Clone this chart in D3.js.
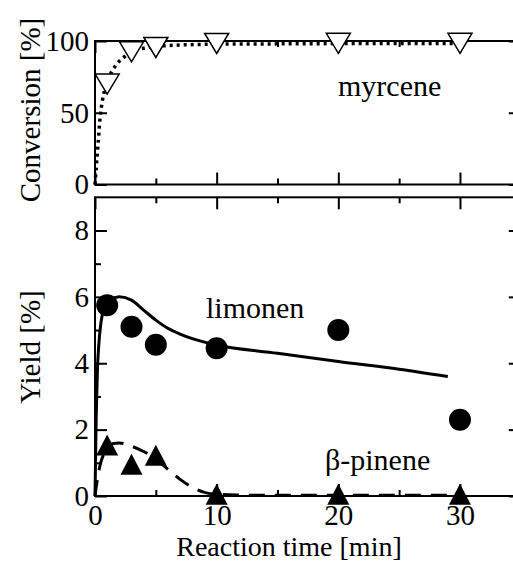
<!DOCTYPE html>
<html>
<head>
<meta charset="utf-8">
<script src="https://cdn.jsdelivr.net/npm/d3@7"></script>
<style>
  body { margin: 0; background: #fff; }
  svg text { font-family: "Liberation Serif", "Times New Roman", serif; fill: #000; }
  .axis path.domain { display: none; }
  .axis line { stroke: #000; stroke-width: 2; }
  .axis text { font-size: 29px; }
</style>
</head>
<body>
<div id="chart"></div>
<script>
// measured points (min)
const times = [1, 3, 5, 10, 20, 30];
const myrcene = [70, 92.5, 95.5, 98.3, 98.4, 98.4];
const limonene = [5.75, 5.1, 4.56, 4.45, 5.0, 2.3];
const bPinene = [1.54, 0.96, 1.23, 0.05, 0.05, 0.05];

// fitted curves
const myrceneFitT = [0, 0.1, 0.25, 0.4, 0.6, 0.8, 1, 1.4, 2, 2.5, 3, 3.5, 4, 5, 7, 10, 15, 20, 30];
const myrceneFitY = [0, 12, 28, 45, 58, 66, 72, 79, 86, 89.5, 92, 94, 95, 96.2, 97.2, 97.8, 98, 98.2, 98.3];
const limoneneFitT = [0, 0.1, 0.2, 0.3, 0.5, 0.8, 1.2, 2, 3, 4, 5, 6, 7, 8, 10, 15, 20, 25, 29];
const limoneneFitY = [0, 2.4, 3.8, 4.5, 5.25, 5.7, 5.9, 6.0, 5.9, 5.6, 5.3, 5.05, 4.88, 4.74, 4.55, 4.3, 4.05, 3.82, 3.6];
const pineneFitT = [0, 0.2, 0.4, 0.7, 1, 1.5, 2, 3, 4, 5, 6, 7, 8, 9, 10, 12, 15, 20, 30];
const pineneFitY = [0, 0.5, 0.9, 1.25, 1.45, 1.58, 1.6, 1.5, 1.34, 1.12, 0.8, 0.5, 0.26, 0.11, 0.05, 0.03, 0.02, 0.02, 0.02];

const xMajor = [0, 10, 20, 30];
const xMinor = [5, 15, 25];
const convTicks = [0, 50, 100];
const yieldMajor = [0, 2, 4, 6, 8];
const yieldMinor = [1, 3, 5, 7];

const W = 513, H = 562;
const svg = d3.select("#chart").append("svg")
    .attr("width", W).attr("height", H);

const x = d3.scaleLinear().domain([0, 35]).range([95, 520.8]);
const yConv = d3.scaleLinear().domain([0, 100]).range([184.5, 41]);
const yYield = d3.scaleLinear().domain([0, 9]).range([496, 197.3]);

function frame(y) {
    svg.append("rect")
        .attr("x", x(0)).attr("y", y.range()[1])
        .attr("width", x(35) - x(0)).attr("height", y.range()[0] - y.range()[1])
        .attr("fill", "none").attr("stroke", "#000").attr("stroke-width", 2);
}

function xTicks(y, withLabels) {
    const yb = y.range()[0], yt = y.range()[1];
    svg.append("g").attr("class", "axis").attr("transform", `translate(0,${yb})`)
        .call(d3.axisBottom(x).tickValues(xMajor).tickSize(-12).tickPadding(8)
            .tickFormat(withLabels ? d3.format("d") : ""));
    svg.append("g").attr("class", "axis").attr("transform", `translate(0,${yb})`)
        .call(d3.axisBottom(x).tickValues(xMinor).tickSize(-6).tickFormat(""));
    svg.append("g").attr("class", "axis").attr("transform", `translate(0,${yt})`)
        .call(d3.axisTop(x).tickValues(xMajor).tickSize(-12).tickFormat(""));
    svg.append("g").attr("class", "axis").attr("transform", `translate(0,${yt})`)
        .call(d3.axisTop(x).tickValues(xMinor).tickSize(-6).tickFormat(""));
}

function yTicks(y, major, minor) {
    svg.append("g").attr("class", "axis").attr("transform", `translate(${x(0)},0)`)
        .call(d3.axisLeft(y).tickValues(major).tickSize(-12).tickPadding(6));
    svg.append("g").attr("class", "axis").attr("transform", `translate(${x(35)},0)`)
        .call(d3.axisLeft(y).tickValues(major).tickSize(12).tickFormat(""));
    if (minor.length) {
        svg.append("g").attr("class", "axis").attr("transform", `translate(${x(0)},0)`)
            .call(d3.axisLeft(y).tickValues(minor).tickSize(-6).tickFormat(""));
        svg.append("g").attr("class", "axis").attr("transform", `translate(${x(35)},0)`)
            .call(d3.axisLeft(y).tickValues(minor).tickSize(6).tickFormat(""));
    }
}

// ---- top panel: conversion
frame(yConv);
xTicks(yConv, false);
yTicks(yConv, convTicks, []);

const lineConv = d3.line().x(d => x(d[0])).y(d => yConv(d[1])).curve(d3.curveMonotoneX);
svg.append("path")
    .datum(d3.zip(myrceneFitT, myrceneFitY))
    .attr("d", lineConv)
    .attr("fill", "none").attr("stroke", "#000")
    .attr("stroke-width", 3.5).attr("stroke-dasharray", "3,4");

const tw = 24, th = 20;
svg.selectAll(".myr").data(d3.zip(times, myrcene)).join("path")
    .attr("class", "myr")
    .attr("transform", d => `translate(${x(d[0])},${yConv(d[1])})`)
    .attr("d", `M${-tw / 2},${-th / 2}L${tw / 2},${-th / 2}L0,${th / 2}Z`)
    .attr("fill", "#fff").attr("stroke", "#000").attr("stroke-width", 1.5);

svg.append("text").attr("x", 338).attr("y", 96)
    .style("font-size", "30px").text("myrcene");

// ---- bottom panel: yield
frame(yYield);
xTicks(yYield, true);
yTicks(yYield, yieldMajor, yieldMinor);

const lineYield = d3.line().x(d => x(d[0])).y(d => yYield(d[1])).curve(d3.curveMonotoneX);
svg.append("path")
    .datum(d3.zip(limoneneFitT, limoneneFitY))
    .attr("d", lineYield)
    .attr("fill", "none").attr("stroke", "#000").attr("stroke-width", 3);
svg.append("path")
    .datum(d3.zip(pineneFitT, pineneFitY))
    .attr("d", lineYield)
    .attr("fill", "none").attr("stroke", "#000")
    .attr("stroke-width", 3).attr("stroke-dasharray", "16,10");

svg.selectAll(".lim").data(d3.zip(times, limonene)).join("circle")
    .attr("class", "lim")
    .attr("cx", d => x(d[0])).attr("cy", d => yYield(d[1]))
    .attr("r", 11).attr("fill", "#000");

const pw = 22, ph = 21;
svg.selectAll(".pin").data(d3.zip(times, bPinene)).join("path")
    .attr("class", "pin")
    .attr("transform", d => `translate(${x(d[0])},${yYield(d[1])})`)
    .attr("d", `M${-pw / 2},${ph / 2}L${pw / 2},${ph / 2}L0,${-ph / 2}Z`)
    .attr("fill", "#000");

svg.append("text").attr("x", 206).attr("y", 318)
    .style("font-size", "30px").text("limonen");
svg.append("text").attr("x", 325).attr("y", 470)
    .style("font-size", "30px").text("β-pinene");

// ---- axis titles
svg.append("text")
    .attr("transform", "translate(40,110) rotate(-90)")
    .attr("text-anchor", "middle")
    .style("font-size", "29px").text("Conversion [%]");
svg.append("text")
    .attr("transform", "translate(40,347) rotate(-90)")
    .attr("text-anchor", "middle")
    .style("font-size", "29px").text("Yield [%]");
svg.append("text")
    .attr("x", 289).attr("y", 556)
    .attr("text-anchor", "middle")
    .style("font-size", "28px").text("Reaction time [min]");
</script>
</body>
</html>
